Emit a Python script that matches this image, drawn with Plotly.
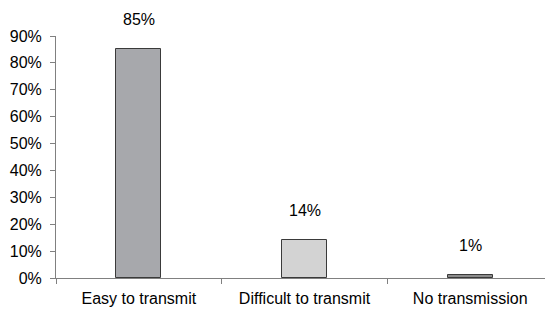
import plotly.graph_objects as go

categories = ["Easy to transmit", "Difficult to transmit", "No transmission"]
values = [85, 14, 1]
labels = ["85%", "14%", "1%"]
colors = ["#a7a8ac", "#d3d3d3", "#8c8c8c"]

fig = go.Figure()
fig.add_trace(go.Bar(
    x=categories, y=values, width=0.27,
    marker=dict(color=colors, line=dict(color="#3a3a3a", width=1)),
    hoverinfo="skip",
))
for c, v, t in zip(categories, values, labels):
    fig.add_annotation(x=c, y=v, text=t, showarrow=False, yanchor="bottom",
                       yshift=19, font=dict(size=16, color="#000000"))

# page body has an 8px margin, so the figure is sized to fit the window
fig.update_layout(
    width=545, height=302,
    margin=dict(l=48, r=0, t=28, b=32),
    paper_bgcolor="white", plot_bgcolor="white",
    font=dict(family="Liberation Sans, Arial, sans-serif", size=16, color="#000000"),
    showlegend=False,
    bargap=0,
)
fig.update_xaxes(
    type="category", tickson="boundaries", ticks="outside", ticklen=5,
    tickcolor="#808080", showline=True, linecolor="#808080", linewidth=1,
    showgrid=False, tickfont=dict(size=16), automargin=False,
    ticklabelstandoff=6,
)
fig.update_yaxes(
    range=[0, 90], tickvals=list(range(0, 91, 10)),
    ticktext=[f"{v}%" for v in range(0, 91, 10)],
    ticks="outside", ticklen=5, tickcolor="#808080",
    showline=True, linecolor="#808080", linewidth=1,
    showgrid=False, zeroline=False, tickfont=dict(size=16), automargin=False,
    ticklabelstandoff=5,
)
fig.write_html("out.html")
